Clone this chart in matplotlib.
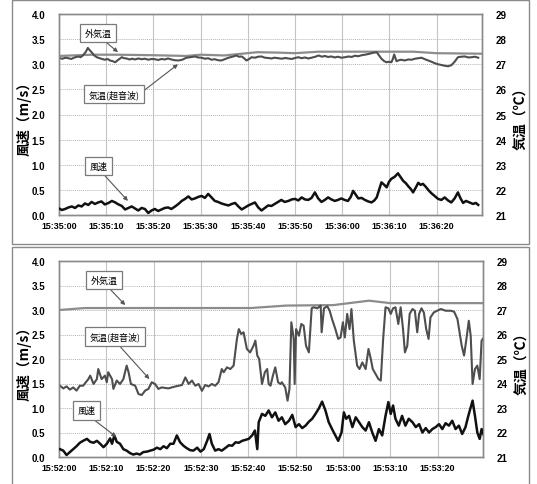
import matplotlib
matplotlib.use("Agg")
import matplotlib.pyplot as plt
from matplotlib.patches import Rectangle

plt.rcParams['font.family'] = ['Liberation Sans', 'Noto Sans CJK JP', 'DejaVu Sans']

# ---------------- data ----------------
xtick_sec = [0, 10, 20, 30, 40, 50, 60, 70, 80]
top_xlabels = ["15:35:00", "15:35:10", "15:35:20", "15:35:30", "15:35:40",
               "15:35:50", "15:36:00", "15:36:10", "15:36:20"]
bot_xlabels = ["15:52:00", "15:52:10", "15:52:20", "15:52:30", "15:52:40",
               "15:52:50", "15:53:00", "15:53:10", "15:53:20"]
wind_ticks = [0.0, 0.5, 1.0, 1.5, 2.0, 2.5, 3.0, 3.5, 4.0]
temp_ticks = [21, 22, 23, 24, 25, 26, 27, 28, 29]

# top panel (seconds after 15:35:00)
top_out = [(0, 27.33), (7, 27.38), (12, 27.38), (20, 27.36), (27, 27.33), (30, 27.38),
           (35, 27.35), (42, 27.48), (47, 27.46), (50, 27.44), (55, 27.5), (60, 27.5),
           (70, 27.5), (75, 27.5), (80, 27.44), (89.5, 27.42)]

top_son = [(0, 27.25), (0.7, 27.22), (1.4, 27.26), (2, 27.24), (2.6, 27.21), (3.3, 27.27),
           (4.1, 27.31), (4.6, 27.28), (5.2, 27.38), (5.7, 27.50), (6.1, 27.65), (6.5, 27.56),
           (6.9, 27.48), (7.4, 27.36), (8, 27.28), (8.6, 27.24), (9.1, 27.21), (9.7, 27.18),
           (10.3, 27.21), (10.8, 27.15), (11.4, 27.12), (11.9, 27.08), (12.5, 27.17),
           (13.3, 27.28), (13.8, 27.24), (14.3, 27.23), (14.9, 27.19), (15.5, 27.22),
           (16.1, 27.19), (16.8, 27.23), (17.5, 27.20), (18.2, 27.22), (18.9, 27.18),
           (19.6, 27.21), (20.3, 27.20), (21, 27.17), (21.7, 27.21), (22.4, 27.19),
           (23.1, 27.23), (23.8, 27.19), (24.5, 27.16), (25.3, 27.15), (26.1, 27.18),
           (27, 27.26), (27.8, 27.28), (28.8, 27.31), (29.5, 27.27), (30.2, 27.26),
           (30.9, 27.22), (31.6, 27.24), (32.3, 27.18), (33.0, 27.20), (33.7, 27.16),
           (34.4, 27.15), (35.1, 27.20), (35.9, 27.26), (36.7, 27.30), (37.6, 27.35),
           (38.1, 27.30), (38.7, 27.31), (39.2, 27.24), (39.7, 27.15), (40.2, 27.20),
           (40.8, 27.28), (41.5, 27.26), (42.2, 27.30), (42.9, 27.31), (43.6, 27.26),
           (44.3, 27.25), (45, 27.23), (45.7, 27.26), (46.5, 27.24), (47.2, 27.22),
           (47.9, 27.25), (48.6, 27.23), (49.3, 27.21), (50, 27.25), (50.7, 27.28),
           (51.4, 27.24), (52.1, 27.27), (52.8, 27.23), (53.5, 27.26), (54.3, 27.30),
           (55, 27.35), (55.7, 27.30), (56.3, 27.33), (57, 27.29), (57.7, 27.31),
           (58.4, 27.27), (59.1, 27.30), (59.8, 27.26), (60.6, 27.28), (61.3, 27.31),
           (62, 27.29), (62.7, 27.34), (63.4, 27.32), (64.1, 27.36), (64.8, 27.38),
           (65.6, 27.41), (66.4, 27.45), (67.3, 27.48), (67.8, 27.35), (68.3, 27.22),
           (68.9, 27.12), (69.4, 27.08), (69.9, 27.10), (70.4, 27.08), (70.7, 27.20),
           (71, 27.39), (71.5, 27.12), (72, 27.16), (72.5, 27.18), (73.2, 27.15),
           (74, 27.19), (74.7, 27.18), (75.4, 27.22), (76.1, 27.24), (76.8, 27.26),
           (77.5, 27.20), (78.2, 27.15), (78.9, 27.10), (79.6, 27.04), (80.3, 27.00),
           (81, 26.97), (81.7, 26.94), (82.4, 26.92), (83.1, 26.96), (83.8, 27.10),
           (84.5, 27.28), (85.2, 27.30), (86, 27.31), (86.7, 27.27), (87.4, 27.28),
           (88.1, 27.30), (88.8, 27.26)]

top_wind = [(0, 0.13), (0.6, 0.10), (1.3, 0.12), (2.0, 0.15), (2.7, 0.17), (3.4, 0.14),
            (4.1, 0.19), (4.8, 0.17), (5.5, 0.23), (6.2, 0.20), (6.9, 0.26), (7.6, 0.22),
            (8.3, 0.25), (9.0, 0.27), (9.7, 0.21), (10.5, 0.24), (11.2, 0.28), (11.9, 0.25),
            (12.6, 0.21), (13.3, 0.18), (14, 0.11), (14.7, 0.14), (15.4, 0.17), (16.1, 0.13),
            (16.8, 0.09), (17.5, 0.14), (18.2, 0.12), (18.9, 0.04), (19.6, 0.09), (20.3, 0.12),
            (21.0, 0.08), (21.7, 0.11), (22.4, 0.14), (23.1, 0.15), (23.8, 0.12), (24.6, 0.17),
            (25.3, 0.22), (26, 0.28), (26.7, 0.32), (27.4, 0.37), (28.1, 0.31), (28.8, 0.33),
            (29.5, 0.36), (30.2, 0.38), (30.9, 0.34), (31.6, 0.42), (32.3, 0.35), (33, 0.28),
            (33.7, 0.26), (34.4, 0.23), (35.1, 0.21), (35.9, 0.19), (36.6, 0.22), (37.3, 0.24),
            (38.0, 0.17), (38.7, 0.11), (39.4, 0.15), (40.1, 0.19), (40.8, 0.22), (41.5, 0.25),
            (42.2, 0.15), (42.9, 0.09), (43.6, 0.14), (44.3, 0.19), (45.0, 0.18), (45.7, 0.22),
            (46.4, 0.26), (47.1, 0.30), (47.8, 0.26), (48.6, 0.28), (49.3, 0.31), (50, 0.32),
            (50.7, 0.29), (51.4, 0.35), (52.1, 0.31), (52.8, 0.30), (53.5, 0.34), (54.2, 0.45),
            (54.9, 0.33), (55.6, 0.26), (56.3, 0.30), (57, 0.35), (57.7, 0.31), (58.4, 0.28),
            (59.1, 0.30), (59.8, 0.33), (60.5, 0.30), (61.2, 0.28), (61.8, 0.36), (62.3, 0.48),
            (62.9, 0.40), (63.4, 0.33), (64.1, 0.34), (64.8, 0.30), (65.5, 0.27), (66.2, 0.25),
            (66.8, 0.29), (67.3, 0.35), (67.8, 0.50), (68.3, 0.65), (68.9, 0.60), (69.4, 0.55),
            (69.9, 0.66), (70.4, 0.72), (71.1, 0.76), (71.8, 0.83), (72.4, 0.75), (72.9, 0.68),
            (73.5, 0.63), (74, 0.57), (74.5, 0.52), (75, 0.45), (75.6, 0.55), (76.1, 0.64),
            (76.6, 0.60), (77.1, 0.62), (77.7, 0.56), (78.2, 0.50), (78.8, 0.44), (79.3, 0.40),
            (79.8, 0.36), (80.3, 0.32), (81.0, 0.30), (81.7, 0.35), (82.4, 0.29), (83.1, 0.25),
            (83.8, 0.33), (84.5, 0.45), (85.0, 0.34), (85.6, 0.24), (86.2, 0.28), (86.7, 0.26),
            (87.2, 0.24), (87.7, 0.22), (88.3, 0.24), (88.8, 0.20)]

# bottom panel (seconds after 15:52:00)
bot_out = [(0, 27.0), (5.5, 27.08), (40.5, 27.08), (48, 27.18), (58, 27.2),
           (65.5, 27.38), (70, 27.28), (89.5, 27.28)]

bot_son_t = [0.2, 0.9, 1.6, 2.3, 3.0, 3.7, 4.4, 5.1, 6.2, 6.6, 7.3, 8.0, 8.3, 9.0,
             9.7, 10.1, 10.4, 11.2, 11.5, 12.2, 12.9, 13.6, 14.3, 14.7, 15.2, 16.1,
             16.8, 17.5, 18.2, 18.9, 19.6, 20.3, 21.0, 21.7, 23.1, 24.6, 26.0, 26.7,
             27.4, 28.1, 28.8, 29.5, 30.2, 30.9, 31.6, 32.3, 33.0, 33.7, 34.4, 34.8,
             35.5, 36.2, 36.9, 37.6, 38.0, 38.5, 39.0, 39.7, 40.4, 41.1, 41.5, 41.9,
             42.3, 42.9, 43.5, 44.0, 44.3, 44.7, 45.2, 45.7, 46.3, 46.8, 47.1, 47.8,
             48.3, 48.7, 49.1, 49.6, 49.8, 50.1, 50.7, 51.2, 51.7, 52.2, 52.8, 53.4,
             53.8, 54.6, 55.3, 55.5, 56.0, 56.7, 57.2, 57.7, 58.4, 59.0, 59.5, 60.0,
             60.4, 60.9, 61.4, 61.8, 62.3, 63.0, 63.5, 64.1, 64.8, 65.4, 65.9, 66.3,
             66.9, 67.5, 68.0, 68.5, 69.0, 69.6, 70.1, 70.6, 71.1, 71.7, 72.2, 72.7,
             73.1, 73.6, 74.1, 74.7, 75.2, 75.7, 76.1, 76.6, 77.1, 77.6, 78.1, 78.5,
             79.2, 79.9, 80.7, 81.7, 82.8, 83.5, 84.2, 84.7, 85.1, 85.6, 86.1, 86.6,
             87.0, 87.4, 87.9, 88.4, 88.9, 89.3, 89.8]
bot_son_T = [23.91, 23.80, 23.88, 23.75, 23.84, 23.71, 23.91, 23.91, 24.18, 24.32,
             23.98, 24.18, 24.59, 24.18, 24.32, 24.05, 24.46, 24.18, 23.78, 24.12,
             23.98, 24.18, 24.73, 24.46, 23.98, 23.91, 23.57, 23.53, 23.71, 23.78,
             24.05, 23.98, 23.78, 23.84, 23.80, 23.88, 23.94, 24.25, 23.98, 24.12,
             23.91, 23.98, 23.70, 23.94, 23.88, 23.98, 23.91, 24.05, 24.59, 24.46,
             24.66, 24.59, 24.73, 25.82, 26.22, 26.02, 26.09, 25.41, 25.27, 25.54,
             25.75, 25.14, 25.00, 23.98, 24.46, 24.59, 23.98, 23.91, 24.32, 24.66,
             24.05, 23.98, 24.05, 23.84, 23.30, 23.78, 26.50, 25.82, 23.98, 26.22,
             25.95, 26.43, 26.36, 25.54, 25.27, 27.07, 27.11, 27.07, 27.18, 26.09,
             27.07, 27.15, 26.97, 26.63, 26.22, 25.82, 25.88, 26.50, 25.88, 26.84,
             26.22, 27.04, 25.75, 24.73, 24.59, 24.86, 24.59, 25.41, 25.00, 24.59,
             24.39, 24.18, 24.12, 25.82, 27.11, 27.07, 26.84, 27.07, 27.11, 26.43,
             27.11, 26.22, 25.27, 25.54, 26.84, 27.04, 26.97, 26.09, 26.84, 27.07,
             26.90, 26.22, 25.82, 26.70, 26.90, 26.97, 27.04, 26.97, 26.97, 26.93,
             26.63, 26.02, 25.54, 25.14, 25.82, 26.56, 25.95, 23.98, 24.59, 24.73,
             24.18, 25.75, 25.88]

bot_wind_t = [0.2, 0.9, 1.6, 2.3, 3.0, 3.7, 4.4, 5.1, 5.9, 6.6, 7.3, 8.0, 8.7, 9.4,
              10.1, 10.8, 11.2, 11.7, 12.2, 12.9, 13.6, 14.3, 15.0, 15.7, 16.4, 17.1,
              17.8, 18.6, 19.3, 20.0, 20.7, 21.4, 22.1, 22.8, 23.5, 24.2, 24.9, 25.6,
              26.3, 27.0, 27.7, 28.4, 29.2, 29.9, 30.6, 31.3, 31.8, 32.3, 33.0, 33.7,
              34.4, 35.1, 35.9, 36.6, 37.3, 38.0, 38.7, 39.4, 40.1, 40.8, 41.4, 41.9,
              42.2, 42.9, 43.6, 44.3, 45.0, 45.7, 46.4, 47.1, 47.8, 48.6, 49.3, 50.0,
              50.7, 51.4, 52.1, 52.8, 53.5, 54.2, 54.9, 55.6, 56.3, 57.0, 57.7, 58.4,
              59.0, 59.7, 60.2, 60.7, 61.3, 62.0, 62.7, 63.4, 64.1, 64.8, 65.5, 66.2,
              66.9, 67.6, 68.3, 69.0, 69.6, 70.1, 70.6, 71.1, 71.8, 72.5, 73.2, 73.9,
              74.7, 75.4, 76.1, 76.8, 77.5, 78.2, 78.9, 79.6, 80.3, 81.0, 81.7, 82.4,
              83.1, 83.8, 84.5, 85.2, 85.9, 86.5, 87.0, 87.4, 87.9, 88.4, 88.9, 89.3,
              89.8]
bot_wind_v = [0.16, 0.13, 0.04, 0.10, 0.16, 0.22, 0.29, 0.33, 0.37, 0.31, 0.29,
              0.33, 0.27, 0.20, 0.27, 0.38, 0.27, 0.44, 0.31, 0.27, 0.16, 0.13,
              0.08, 0.05, 0.07, 0.05, 0.10, 0.11, 0.13, 0.15, 0.19, 0.16, 0.22,
              0.18, 0.27, 0.27, 0.44, 0.30, 0.23, 0.18, 0.14, 0.13, 0.19, 0.11,
              0.16, 0.33, 0.47, 0.27, 0.13, 0.16, 0.13, 0.18, 0.24, 0.23, 0.30,
              0.29, 0.33, 0.35, 0.37, 0.44, 0.54, 0.16, 0.71, 0.88, 0.84, 0.95,
              0.81, 0.91, 0.74, 0.81, 0.67, 0.74, 0.86, 0.61, 0.67, 0.59, 0.64,
              0.72, 0.78, 0.88, 0.99, 1.13, 0.95, 0.71, 0.57, 0.44, 0.33, 0.50,
              0.91, 0.78, 0.84, 0.61, 0.81, 0.71, 0.61, 0.54, 0.71, 0.50, 0.33,
              0.57, 0.44, 0.84, 1.12, 0.88, 1.05, 0.78, 0.64, 0.84, 0.64, 0.78,
              0.71, 0.61, 0.67, 0.50, 0.59, 0.50, 0.57, 0.61, 0.67, 0.57, 0.69,
              0.64, 0.74, 0.57, 0.64, 0.47, 0.61, 0.84, 1.01, 1.15, 0.84, 0.50,
              0.37, 0.57, 0.44]

# ---------------- figure ----------------
W, H = 537, 485
fig = plt.figure(figsize=(W / 100, H / 100), dpi=100)

def fx(px):
    return px / W

def fy(py):
    return 1 - py / H

# panel frames
for (x0, y0, x1, y1) in [(12, 1, 529, 245), (12, 248, 529, 495)]:
    fig.patches.append(Rectangle((fx(x0), fy(y1)), fx(x1) - fx(x0), fy(y0) - fy(y1),
                                 transform=fig.transFigure, fill=False,
                                 edgecolor='#8a8a8a', lw=1.0))

XTICKFONT = dict(fontsize=6.4, fontweight='bold')
YTICKFONT = dict(fontsize=7, fontweight='bold')
CJK = ['Noto Sans CJK JP', 'DejaVu Sans']

def unzip(pairs):
    return [p[0] for p in pairs], [p[1] for p in pairs]

def make_panel(box, xlabels, out_t, out_T, son_t, son_T, wind_t, wind_v, notes):
    l, t, r, b = box
    ax = fig.add_axes([fx(l), fy(b), fx(r) - fx(l), fy(t) - fy(b)])
    ax2 = ax.twinx()
    ax.set_zorder(ax2.get_zorder() + 1)
    ax.patch.set_visible(False)

    ax.set_xlim(0, 89.6)
    ax.set_ylim(0, 4.0)
    ax2.set_ylim(21, 29)
    ax.set_xticks(xtick_sec)
    ax.set_xticklabels(xlabels, **XTICKFONT)
    ax.set_yticks(wind_ticks)
    ax.set_yticklabels([f"{v:.1f}" for v in wind_ticks], **YTICKFONT)
    ax2.set_yticks(temp_ticks)
    ax2.set_yticklabels([str(v) for v in temp_ticks], **YTICKFONT)
    ax.tick_params(axis='x', length=0, pad=4)
    ax.tick_params(axis='y', length=0, pad=10)
    ax2.tick_params(axis='y', length=0, pad=10)
    for a in (ax, ax2):
        for s in a.spines.values():
            s.set_color('#8a8a8a')
            s.set_linewidth(1.0)

    # grid
    for xv in xtick_sec[1:]:
        ax2.axvline(xv, color='#c4c4c4', lw=0.8, zorder=0)
    for yv in wind_ticks[1:-1]:
        ax2.axhline(21 + 2 * yv, color='#b4b4b4', lw=0.7, ls=(0, (1, 1)), zorder=0)

    ax2.plot(out_t, out_T, color='#8c8c8c', lw=1.6, zorder=2)
    ax2.plot(son_t, son_T, color='#4e4e4e', lw=1.5, zorder=3)
    ax.plot(wind_t, wind_v, color='#111111', lw=1.8, zorder=3)

    ax.set_ylabel('風速（m/s）', family=CJK, fontsize=10, fontweight='bold', labelpad=0)
    ax2.set_ylabel('気温（℃）', family=CJK, fontsize=10, fontweight='bold',
                   rotation=90, labelpad=5)

    for (txt, boxpos, tip, tipax, relpos) in notes:
        target = ax2 if tipax == 'T' else ax
        target.annotate(txt, xy=tip, xycoords='data',
                        xytext=boxpos, textcoords=ax.transAxes,
                        ha='center', va='center', family=CJK, fontsize=6.5,
                        bbox=dict(boxstyle='square,pad=0.5', fc='white',
                                  ec='#7a7a7a', lw=0.9),
                        arrowprops=dict(arrowstyle='-|>', color='#555555', lw=0.8,
                                        mutation_scale=6, relpos=relpos,
                                        shrinkA=0, shrinkB=0),
                        zorder=6)
    return ax, ax2

tt, tT = unzip(top_out)
st, sT = unzip(top_son)
wt, wv = unzip(top_wind)
make_panel((59, 15, 482, 216), top_xlabels, tt, tT, st, sT, wt, wv,
           [('外気温', (0.092, 0.905), (12.5, 27.48), 'T', (0.6, 0.0)),
            ('気温(超音波)', (0.130, 0.602), (25.2, 27.0), 'T', (1.0, 0.5)),
            ('風速', (0.093, 0.244), (14.6, 0.28), 'W', (0.6, 0.0))])

bt, bT = unzip(bot_out)
make_panel((59, 262, 483, 458), bot_xlabels, bt, bT,
           bot_son_t, bot_son_T, bot_wind_t, bot_wind_v,
           [('外気温', (0.107, 0.903), (14.0, 27.2), 'T', (0.55, 0.0)),
            ('気温(超音波)', (0.133, 0.615), (19.1, 24.18), 'T', (0.5, 0.0)),
            ('風速', (0.066, 0.237), (12.1, 0.41), 'W', (0.55, 0.0))])

fig.savefig('out.png', dpi=100)
